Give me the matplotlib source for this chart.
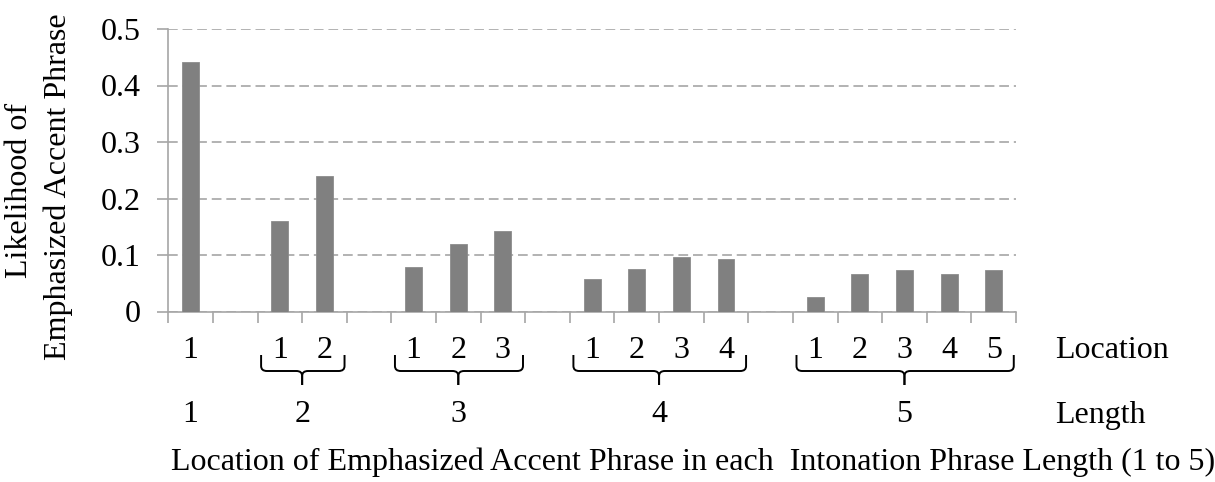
import matplotlib
matplotlib.use("Agg")
import matplotlib.pyplot as plt
import matplotlib.transforms as mtransforms
from matplotlib.path import Path
from matplotlib.patches import PathPatch
import numpy as np

# intonation phrase length -> likelihood at each location
lengths = [1, 2, 3, 4, 5]
values_len1 = [0.441]
values_len2 = [0.160, 0.239]
values_len3 = [0.078, 0.120, 0.142]
values_len4 = [0.057, 0.076, 0.096, 0.093]
values_len5 = [0.025, 0.066, 0.073, 0.066, 0.073]
groups = [values_len1, values_len2, values_len3, values_len4, values_len5]
y_ticks = [0, 0.1, 0.2, 0.3, 0.4, 0.5]
y_tick_labels = ["0", "0.1", "0.2", "0.3", "0.4", "0.5"]

plt.rcParams['font.family'] = ['Liberation Serif', 'DejaVu Serif']
plt.rcParams['lines.scale_dashes'] = False
FS = 23

W, H = 1215, 482
fig = plt.figure(figsize=(W / 100, H / 100), dpi=100)
ax = fig.add_axes([168.3 / W, 1 - 311.5 / H, (1016 - 168.3) / W, (311.5 - 29) / H])

# lay out bars: one empty slot between groups
positions = []
group_pos = []
slot = 0
for g in groups:
    p = list(range(slot, slot + len(g)))
    positions += p
    group_pos.append(p)
    slot += len(g) + 1
n_slots = slot - 1
heights = [v for g in groups for v in g]

ax.bar(positions, heights, width=0.38, color='#808080', edgecolor='#8c8c8c',
       linewidth=0.6, zorder=3)

ax.set_xlim(-0.5, n_slots - 0.5)
ax.set_ylim(0, 0.5)
ax.set_yticks(y_ticks)
ax.set_yticklabels(y_tick_labels, fontsize=FS)
ax.set_xticks(np.arange(-0.5, n_slots, 1.0))
ax.set_xticklabels([])

grid_col = '#a6a6a6'
ax.yaxis.grid(True, color=grid_col, linestyle=(0, (7, 3.5)), linewidth=1.2, zorder=0)
for s in ['top', 'right']:
    ax.spines[s].set_visible(False)
for s in ['left', 'bottom']:
    ax.spines[s].set_color(grid_col)
    ax.spines[s].set_linewidth(1.2)
ax.tick_params(axis='y', length=8, width=1.2, color=grid_col, pad=12)
ax.tick_params(axis='x', length=8, width=1.2, color=grid_col, direction='out')

# category labels under the axis
trans = mtransforms.blended_transform_factory(ax.transData, fig.transFigure)
y_loc = 1 - 351 / H
y_len = 1 - 415 / H
for L, p in zip(lengths, group_pos):
    for i, x in enumerate(p):
        ax.text(x, y_loc, str(i + 1), transform=trans, ha='center', va='center',
                fontsize=FS)
    ax.text(np.mean(p), y_len, str(L), transform=trans, ha='center', va='center',
            fontsize=FS)

# braces for groups with more than one location
y_top = 1 - 355 / H
y_mid = 1 - 371 / H
y_bot = 1 - 385 / H
r = 5 / H
for p in group_pos:
    if len(p) < 2:
        continue
    x0 = p[0] - 0.42
    x1 = p[-1] + 0.45
    xc = np.mean(p)
    d = 0.13
    for xa, sgn in [(x0, 1), (x1, -1)]:
        verts = [(xa, y_top), (xa, y_mid + r), (xa, y_mid), (xa + sgn * d, y_mid),
                 (xc - sgn * d, y_mid), (xc, y_mid), (xc, y_mid - r), (xc, y_bot)]
        codes = [Path.MOVETO, Path.LINETO, Path.CURVE3, Path.CURVE3,
                 Path.LINETO, Path.CURVE3, Path.CURVE3, Path.LINETO]
        ax.add_patch(PathPatch(Path(verts, codes), transform=trans, fill=False,
                               edgecolor='black', linewidth=1.4, clip_on=False))

fig.text(1055 / W, y_loc, "Location", ha='left', va='center', fontsize=FS)
fig.text(1055 / W, y_len, "Length", ha='left', va='center', fontsize=FS)
fig.text(171 / W, 1 - 462 / H,
         "Location of Emphasized Accent Phrase in each  Intonation Phrase Length (1 to 5)",
         ha='left', va='center', fontsize=FS)

# y axis label, two lines
fig.text(20 / W, 1 - 190 / H, "Likelihood of", rotation=90, rotation_mode='anchor',
         ha='center', va='center', fontsize=FS)
fig.text(58 / W, 1 - 187 / H, "Emphasized Accent Phrase", rotation=90,
         rotation_mode='anchor', ha='center', va='center', fontsize=FS)

fig.savefig("out.png", dpi=100)
